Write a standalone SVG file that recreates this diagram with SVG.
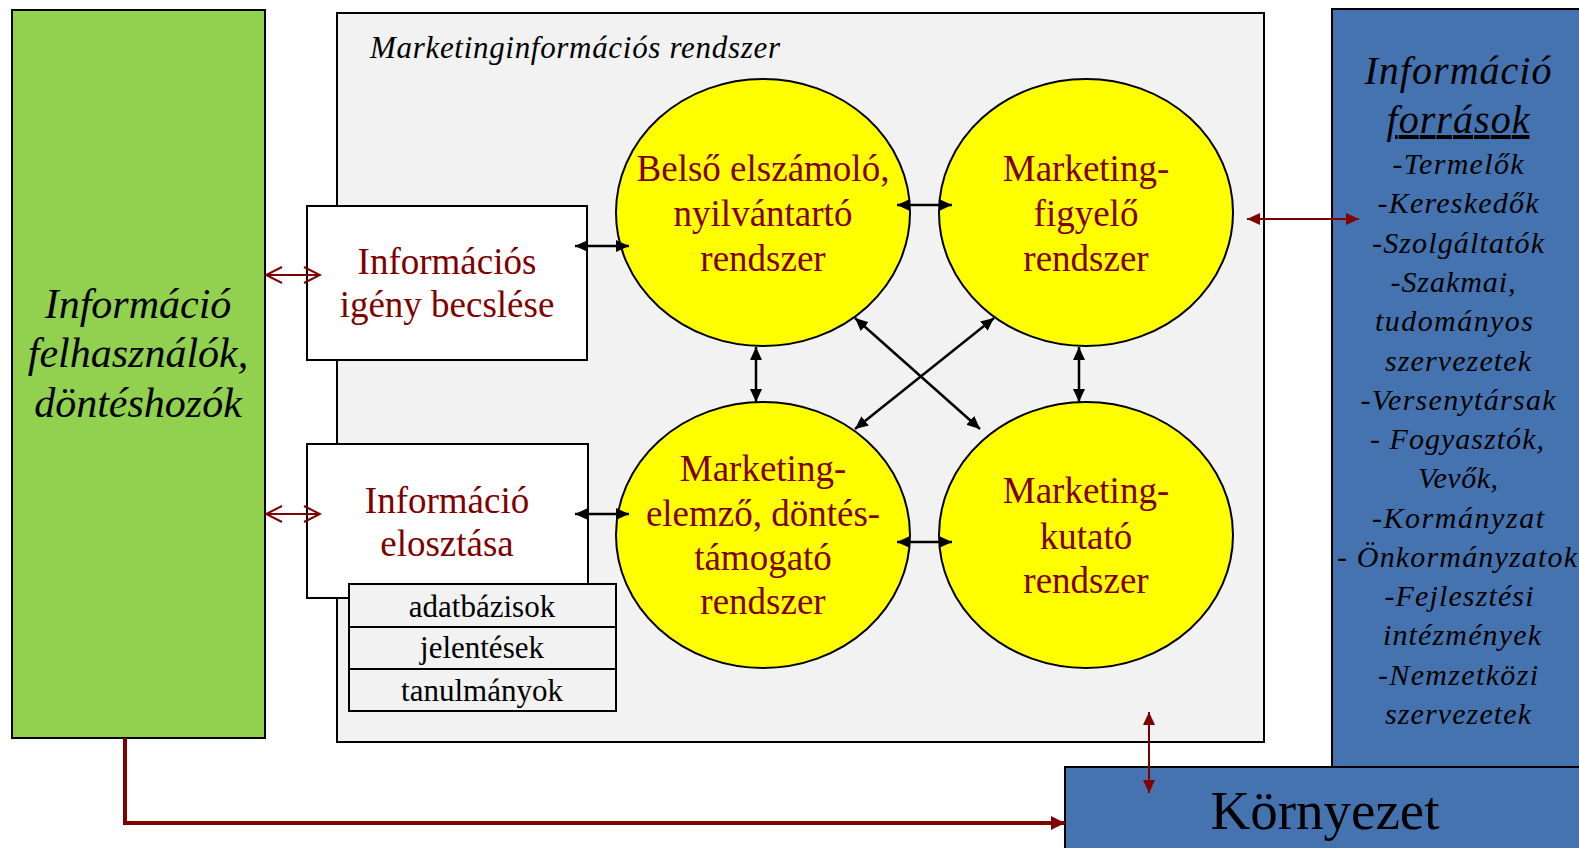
<svg xmlns="http://www.w3.org/2000/svg" width="1579" height="848" viewBox="0 0 1579 848">
<style>
.box{stroke:#000;stroke-width:2}
.t{font-family:"Liberation Serif","Times New Roman",serif}
.it{font-style:italic}
.red{fill:#800000}
.blk{fill:#000}
.mid{text-anchor:middle}
.ell{fill:#FFFF00;stroke:#000;stroke-width:2}
.bl{stroke:#000;stroke-width:2.5;fill:none;marker-start:url(#ab);marker-end:url(#ab)}
.rd{stroke:#800000;stroke-width:2;fill:none;marker-start:url(#ar);marker-end:url(#ar)}
.ro{stroke:#800000;stroke-width:2;fill:none;marker-start:url(#ao);marker-end:url(#ao)}
</style>
<defs>
<marker id="ab" markerUnits="userSpaceOnUse" viewBox="0 0 13 12" refX="13" refY="6" markerWidth="13" markerHeight="12" orient="auto-start-reverse"><path d="M0,0 L13,6 L0,12 z" fill="#000"/></marker>
<marker id="ar" markerUnits="userSpaceOnUse" viewBox="0 0 13 12" refX="13" refY="6" markerWidth="13" markerHeight="12" orient="auto-start-reverse"><path d="M0,0 L13,6 L0,12 z" fill="#800000"/></marker>
<marker id="art" markerUnits="userSpaceOnUse" viewBox="0 0 14 14" refX="14" refY="7" markerWidth="14" markerHeight="14" orient="auto"><path d="M0,0 L14,7 L0,14 z" fill="#800000"/></marker>
<marker id="ao" markerUnits="userSpaceOnUse" viewBox="-1 -1 19 19" refX="16" refY="8" markerWidth="19" markerHeight="19" orient="auto-start-reverse"><path d="M0,0 L16,8 L0,16" fill="none" stroke="#800000" stroke-width="2"/></marker>
</defs>

<g id="felhasznalok">
<rect class="box" x="12" y="10" width="253" height="728" fill="#92D050"/>
<text class="t it blk mid" font-size="42"><tspan x="138" y="318">Információ</tspan><tspan x="138" y="367">felhasználók,</tspan><tspan x="138" y="417">döntéshozók</tspan></text>
</g>

<g id="mis">
<rect class="box" x="337" y="13" width="927" height="729" fill="#F2F2F2"/>
<text class="t it blk" font-size="31" x="370" y="58" textLength="410" lengthAdjust="spacing">Marketinginformációs rendszer</text>
</g>

<g id="igeny">
<rect class="box" x="307" y="206" width="280" height="154" fill="#FFFFFF"/>
<text class="t red mid" font-size="37"><tspan x="447" y="274">Információs</tspan><tspan x="447" y="317">igény becslése</tspan></text>
</g>

<g id="elosztas">
<rect class="box" x="307" y="444" width="281" height="154" fill="#FFFFFF"/>
<text class="t red mid" font-size="37"><tspan x="447" y="513">Információ</tspan><tspan x="447" y="556">elosztása</tspan></text>
</g>

<g id="adatbazisok">
<rect class="box" x="349" y="584" width="267" height="43" fill="#F2F2F2"/>
<text class="t blk mid" font-size="31" x="482" y="617">adatbázisok</text>
</g>
<g id="jelentesek">
<rect class="box" x="349" y="627" width="267" height="42" fill="#F2F2F2"/>
<text class="t blk mid" font-size="31" x="482" y="658">jelentések</text>
</g>
<g id="tanulmanyok">
<rect class="box" x="349" y="669" width="267" height="42" fill="#F2F2F2"/>
<text class="t blk mid" font-size="31" x="482" y="701">tanulmányok</text>
</g>

<g id="belso">
<ellipse class="ell" cx="763" cy="212.5" rx="147" ry="133.5"/>
<text class="t red mid" font-size="37"><tspan x="763" y="181">Belső elszámoló,</tspan><tspan x="763" y="226">nyilvántartó</tspan><tspan x="763" y="271">rendszer</tspan></text>
</g>
<g id="figyelo">
<ellipse class="ell" cx="1086" cy="212.5" rx="147" ry="133.5"/>
<text class="t red mid" font-size="37"><tspan x="1086" y="181">Marketing-</tspan><tspan x="1086" y="226">figyelő</tspan><tspan x="1086" y="271">rendszer</tspan></text>
</g>
<g id="elemzo">
<ellipse class="ell" cx="763" cy="535" rx="147" ry="133"/>
<text class="t red mid" font-size="37"><tspan x="763" y="481">Marketing-</tspan><tspan x="763" y="526">elemző, döntés-</tspan><tspan x="763" y="570">támogató</tspan><tspan x="763" y="614">rendszer</tspan></text>
</g>
<g id="kutato">
<ellipse class="ell" cx="1086" cy="535" rx="147" ry="133"/>
<text class="t red mid" font-size="37"><tspan x="1086" y="503">Marketing-</tspan><tspan x="1086" y="549">kutató</tspan><tspan x="1086" y="593">rendszer</tspan></text>
</g>

<g id="forrasok">
<rect class="box" x="1332" y="9" width="253" height="758" fill="#4573B0"/>
<text class="t it blk mid" font-size="40" x="1458" y="84" textLength="187" lengthAdjust="spacing">Információ</text>
<text class="t it blk mid" font-size="40" x="1458" y="133" textLength="143" lengthAdjust="spacing" text-decoration="underline">források</text>
<g class="t it blk mid" font-size="30">
<text x="1458" y="174" textLength="131" lengthAdjust="spacing">-Termelők</text>
<text x="1458" y="213" textLength="161" lengthAdjust="spacing">-Kereskedők</text>
<text x="1458" y="253" textLength="172" lengthAdjust="spacing">-Szolgáltatók</text>
<text x="1453" y="292" textLength="125" lengthAdjust="spacing">-Szakmai,</text>
<text x="1454" y="331" textLength="158" lengthAdjust="spacing">tudományos</text>
<text x="1458" y="371" textLength="146" lengthAdjust="spacing">szervezetek</text>
<text x="1458" y="410" textLength="195" lengthAdjust="spacing">-Versenytársak</text>
<text x="1457" y="449" textLength="174" lengthAdjust="spacing">- Fogyasztók,</text>
<text x="1458" y="488" textLength="80" lengthAdjust="spacing">Vevők,</text>
<text x="1458" y="528" textLength="172" lengthAdjust="spacing">-Kormányzat</text>
<text x="1457" y="567" textLength="240" lengthAdjust="spacing">- Önkormányzatok</text>
<text x="1459" y="606" textLength="149" lengthAdjust="spacing">-Fejlesztési</text>
<text x="1462" y="645" textLength="158" lengthAdjust="spacing">intézmények</text>
<text x="1458" y="685" textLength="160" lengthAdjust="spacing">-Nemzetközi</text>
<text x="1458" y="724" textLength="146" lengthAdjust="spacing">szervezetek</text>
</g>
</g>

<g id="kornyezet">
<rect class="box" x="1065" y="767" width="520" height="90" fill="#4573B0"/>
<text class="t blk mid" font-size="55" x="1325" y="829">Környezet</text>
</g>

<g id="connectors">
<line class="ro" x1="266" y1="275" x2="320" y2="275"/>
<line class="ro" x1="266" y1="514" x2="320" y2="514"/>
<line class="bl" x1="575" y1="246" x2="629" y2="246"/>
<line class="bl" x1="575" y1="514" x2="629" y2="514"/>
<line class="bl" x1="897" y1="205" x2="952" y2="205"/>
<line class="bl" x1="897" y1="542" x2="952" y2="542"/>
<line class="bl" x1="756" y1="347" x2="756" y2="402"/>
<line class="bl" x1="1079" y1="347" x2="1079" y2="402"/>
<line class="bl" x1="855" y1="318" x2="980" y2="429"/>
<line class="bl" x1="994" y1="318" x2="855" y2="429"/>
<line class="rd" x1="1247" y1="219" x2="1359" y2="219"/>
<line class="rd" x1="1149" y1="712" x2="1149" y2="793"/>
<polyline points="125,738 125,823 1065,823" fill="none" stroke="#800000" stroke-width="4" marker-end="url(#art)"/>
</g>
</svg>
